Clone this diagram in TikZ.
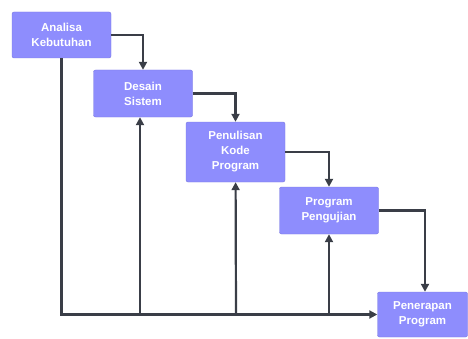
\documentclass[tikz,border=0pt]{standalone}
\usepackage{fontspec}
\setmainfont{Liberation Sans}
\usetikzlibrary{positioning,arrows.meta}
\definecolor{boxfill}{HTML}{8E8DFD}
\definecolor{boxline}{HTML}{7877E0}
\definecolor{wirecol}{HTML}{3A3E47}

\begin{document}
\begin{tikzpicture}[
    x=1pt, y=1pt,
    stage/.style = {draw=boxline, fill=boxfill, text=white, font=\bfseries\fontsize{11.5}{15}\selectfont,
                    minimum width=99pt, minimum height=47pt, rounded corners=2pt, align=center, inner sep=1pt},
    > = {Triangle[length=8pt, width=8pt]},
    link/.style = {draw=wirecol, line width=2.2pt}
]
\useasboundingbox (0,0) rectangle (468,338);
\node (ana) [stage, minimum height=46pt] at (61.5,303) {Analisa\\Kebutuhan};
\node (des) [stage] at (143,244.5) {Desain\\Sistem};
\node (kode) [stage, minimum height=60pt] at (235.5,186) {Penulisan\\Kode\\Program};
\node (uji) [stage] at (329,127.5) {Program\\Pengujian};
\node (pen) [stage, minimum width=90pt, minimum height=45pt] at (422.5,23.5) {Penerapan\\Program};

\coordinate (b2) at (140,0 |- pen);
\coordinate (b3) at (236,0 |- pen);
\coordinate (b4) at (329,0 |- pen);

\draw[link, ->] (ana) -| (des);
\draw[link, ->] (des) -| (kode);
\draw[link, ->] (kode) -| (uji);
\draw[link, ->] (uji.east) -| ([xshift=2.5pt]pen.north);
\draw[link, ->] (ana) |- (pen);
\draw[link, ->] (b2) -- (b2 |- des.south);
\draw[link, ->] (b3) -- (kode);
\draw[link, ->] (b4) -- (uji);
\end{tikzpicture}
\end{document}
